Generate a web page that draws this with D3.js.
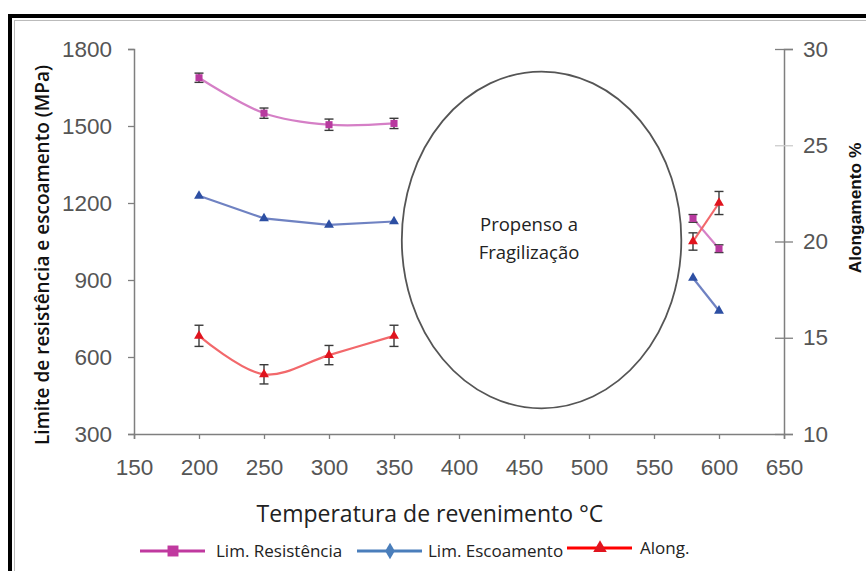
<!DOCTYPE html>
<html><head><meta charset="utf-8">
<script src="https://cdn.jsdelivr.net/npm/d3@7"></script>
<style>body{margin:0;background:#fff;}svg{display:block;}</style>
</head><body>
<svg id="c" width="866" height="571"></svg>
<script>
const temps1 = [200, 250, 300, 350];
const temps2 = [580, 600];
const resist1 = [1688, 1550, 1505, 1510];
const resist2 = [1140, 1022];
const resistErr1 = [18, 20, 22, 20];
const resistErr2 = [15, 15];
const escoa1 = [1228, 1140, 1115, 1128];
const escoa2 = [908, 780];
const along1 = [15.1, 13.1, 14.1, 15.1];
const along2 = [20.0, 22.0];
const alongErr1 = [0.55, 0.5, 0.5, 0.55];
const alongErr2 = [0.45, 0.6];
const xTicks = [150, 200, 250, 300, 350, 400, 450, 500, 550, 600, 650];
const yTicks = [300, 600, 900, 1200, 1500, 1800];
const y2Ticks = [10, 15, 20, 25, 30];
const zone = {x0: 356, x1: 571, y0: 1712, y1: 400, label: ["Propenso a", "Fragilização"]};
const legendItems = ["Lim. Resistência", "Lim. Escoamento", "Along."];

const svg = d3.select("#c");
const x = d3.scaleLinear().domain([150, 650]).range([134, 784]);
const y = d3.scaleLinear().domain([300, 1800]).range([434, 49]);
const y2 = d3.scaleLinear().domain([10, 30]).range([434, 49]);

// frame
svg.append("rect").attr("x", 10).attr("y", 16).attr("width", 900).attr("height", 600)
  .attr("fill", "none").attr("stroke", "#000").attr("stroke-width", 4);
svg.append("rect").attr("x", 14.5).attr("y", 20.5).attr("width", 900).attr("height", 600)
  .attr("fill", "none").attr("stroke", "#bbb").attr("stroke-width", 1);

const tickFont = "'Liberation Sans', Arial, sans-serif";
const axCol = "#7f7f7f";
const fmt = d3.format("d");

// x axis
const gx = svg.append("g").attr("transform", "translate(0,434)")
  .call(d3.axisBottom(x).tickValues(xTicks).tickFormat(fmt).tickSize(5).tickPadding(20));
// left axis
const gy = svg.append("g").attr("transform", "translate(134,0)")
  .call(d3.axisLeft(y).tickValues(yTicks).tickFormat(fmt).tickSize(6).tickPadding(16));
// right axis
const gy2 = svg.append("g").attr("transform", "translate(784,0)")
  .call(d3.axisRight(y2).tickValues(y2Ticks).tickFormat(fmt).tickSize(9).tickPadding(10));
gy2.selectAll(".tick line").attr("x1", -9);
[gx, gy, gy2].forEach(g => {
  g.select(".domain").attr("stroke", axCol).attr("stroke-width", 1.5);
  g.selectAll(".tick line").attr("stroke", axCol).attr("stroke-width", 1.3);
  g.selectAll(".tick text").attr("fill", "#555").style("font-family", tickFont).style("font-size", "22.5px");
});
gy2.selectAll(".tick line").filter(d => d === 25).attr("stroke", "#ccc");

// zone ellipse
const ecx = (x(zone.x0) + x(zone.x1)) / 2, ecy = (y(zone.y0) + y(zone.y1)) / 2;
svg.append("ellipse").attr("cx", ecx).attr("cy", ecy)
  .attr("rx", (x(zone.x1) - x(zone.x0)) / 2).attr("ry", (y(zone.y1) - y(zone.y0)) / 2)
  .attr("fill", "none").attr("stroke", "#555").attr("stroke-width", 1.8);
svg.append("text").attr("x", 529).attr("y", 231).attr("text-anchor", "middle")
  .style("font-family", "'Open Sans', sans-serif").style("font-size", "18.5px").attr("fill", "#222")
  .text(zone.label[0]);
svg.append("text").attr("x", 529).attr("y", 259).attr("text-anchor", "middle")
  .style("font-family", "'Open Sans', sans-serif").style("font-size", "18.5px").attr("fill", "#222")
  .text(zone.label[1]);

function series(xs, ys, ysc, curve, lineCol, markCol, shape, errs) {
  const pts = xs.map((t, i) => [x(t), ysc(ys[i])]);
  svg.append("path").attr("d", d3.line().curve(curve)(pts))
    .attr("fill", "none").attr("stroke", lineCol).attr("stroke-width", 2.2);
  if (errs) {
    xs.forEach((t, i) => {
      const cx = x(t), a = ysc(ys[i] + errs[i]), b = ysc(ys[i] - errs[i]);
      const g = svg.append("g").attr("stroke", "#3a3a3a").attr("stroke-width", 1.4);
      g.append("line").attr("x1", cx).attr("x2", cx).attr("y1", a).attr("y2", b);
      g.append("line").attr("x1", cx - 4.5).attr("x2", cx + 4.5).attr("y1", a).attr("y2", a);
      g.append("line").attr("x1", cx - 4.5).attr("x2", cx + 4.5).attr("y1", b).attr("y2", b);
    });
  }
  svg.append("g").selectAll("path").data(pts).join("path")
    .attr("transform", d => `translate(${d[0]},${d[1]})`)
    .attr("d", d3.symbol().type(shape).size(shape === d3.symbolSquare ? 50 : 42))
    .attr("fill", markCol);
}

const pinkL = "#d57fc6", pinkM = "#b8399f";
const blueL = "#6f82c2", blueM = "#2d4fa3";
const redL = "#f2686b", redM = "#e0141e";

series(temps1, resist1, y, d3.curveCatmullRom, pinkL, pinkM, d3.symbolSquare, resistErr1);
series(temps2, resist2, y, d3.curveLinear, pinkL, pinkM, d3.symbolSquare, resistErr2);
series(temps1, escoa1, y, d3.curveLinear, blueL, blueM, d3.symbolTriangle, null);
series(temps2, escoa2, y, d3.curveLinear, blueL, blueM, d3.symbolTriangle, null);
series(temps1, along1, y2, d3.curveCatmullRom, redL, redM, d3.symbolTriangle, alongErr1);
series(temps2, along2, y2, d3.curveLinear, redL, redM, d3.symbolTriangle, alongErr2);

// axis titles
const titleFont = "'Open Sans', sans-serif";
svg.append("text").attr("transform", "translate(49,255) rotate(-90)").attr("text-anchor", "middle")
  .style("font-family", titleFont).style("font-size", "19px").style("font-weight", "600").attr("fill", "#111")
  .text("Limite de resistência  e escoamento (MPa)");
svg.append("text").attr("transform", "translate(861,208) rotate(-90)").attr("text-anchor", "middle")
  .style("font-family", tickFont).style("font-size", "17.3px").style("font-weight", "bold").attr("fill", "#111")
  .text("Alongamento %");
svg.append("text").attr("x", 430).attr("y", 522).attr("text-anchor", "middle")
  .style("font-family", titleFont).style("font-size", "23px").attr("fill", "#222")
  .text("Temperatura de revenimento °C");

// legend
const legFont = "'Liberation Sans Narrow', 'Arial Narrow', 'Open Sans', sans-serif";
const legCols = ["#c0399f", "#4a7ebb", "#ff0000"];
const legShapes = [d3.symbolSquare, d3.symbolDiamond, d3.symbolTriangle];
const legX = [140, 357, 567];
const legTX = [216, 428, 640];
const legY = [551, 551, 548];
legendItems.forEach((name, i) => {
  svg.append("line").attr("x1", legX[i]).attr("x2", legX[i] + 65).attr("y1", legY[i]).attr("y2", legY[i])
    .attr("stroke", legCols[i]).attr("stroke-width", 3);
  svg.append("path").attr("transform", `translate(${legX[i] + 33},${legY[i]})`)
    .attr("d", d3.symbol().type(legShapes[i]).size(i === 0 ? 120 : 80)).attr("fill", i === 2 ? "#e0141e" : legCols[i]);
  svg.append("text").attr("x", legTX[i]).attr("y", legY[i] + 6)
    .style("font-family", legFont).style("font-size", "17px").attr("fill", "#222").text(name);
});
</script>
</body></html>
